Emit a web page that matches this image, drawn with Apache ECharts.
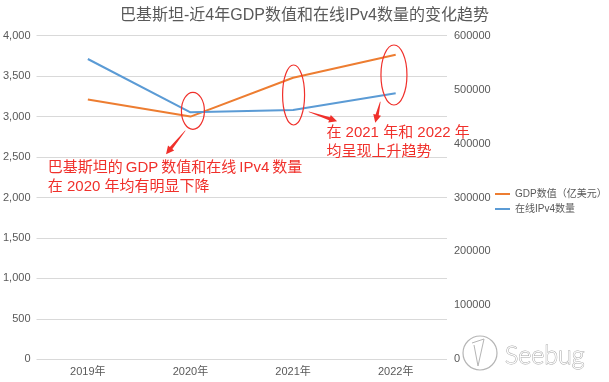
<!DOCTYPE html>
<html>
<head>
<meta charset="utf-8">
<script src="https://cdn.jsdelivr.net/npm/echarts@6/dist/echarts.min.js"></script>
<style>
html,body{margin:0;padding:0;background:#fff;}
#chart{width:609px;height:382px;}
</style>
</head>
<body>
<div id="chart"></div>
<script>
// ---- data ----
const categories = ['2019年', '2020年', '2021年', '2022年'];
const gdpValues = [3210, 3000, 3480, 3765];
const ipv4Values = [556800, 458000, 462200, 493200];
const seriesNames = ['GDP数值（亿美元）', '在线IPv4数量'];
const leftAxisRange = [0, 4000, 500];
const rightAxisRange = [0, 600000, 100000];
const titleText = '巴基斯坦-近4年GDP数值和在线IPv4数量的变化趋势';
const note1Lines = ['巴基斯坦的\u2009GDP\u2009数值和在线\u2009IPv4\u2009数量', '在 2020 年均有明显下降'];
const note2Lines = ['在 2021 年和 2022 年', '均呈现上升趋势'];

const FONT = '"Liberation Sans", "Noto Sans CJK SC", sans-serif';
const chart = echarts.init(document.getElementById('chart'), null, {renderer: 'canvas'});

chart.setOption({
  animation: false,
  backgroundColor: '#fff',
  textStyle: {fontFamily: FONT},
  title: {
    text: titleText,
    left: 'center',
    top: 3,
    textStyle: {fontSize: 16, fontWeight: 'normal', color: '#595959', fontFamily: FONT}
  },
  legend: {
    orient: 'vertical',
    left: 495,
    top: 189,
    width: 114,
    padding: 0,
    itemWidth: 15,
    itemHeight: 2,
    itemGap: 5,
    icon: 'rect',
    textStyle: {fontSize: 10, color: '#595959', fontFamily: FONT, width: 100, overflow: 'none'},
    data: seriesNames
  },
  grid: {left: 35, right: 162, top: 35.7, bottom: 22.7, containLabel: false},
  xAxis: {
    type: 'category',
    data: categories,
    boundaryGap: true,
    axisLine: {show: false},
    axisTick: {show: false},
    axisLabel: {fontSize: 11, color: '#595959', margin: 7, fontFamily: FONT}
  },
  yAxis: [
    {
      type: 'value',
      min: leftAxisRange[0], max: leftAxisRange[1], interval: leftAxisRange[2],
      axisLine: {show: false}, axisTick: {show: false},
      axisLabel: {
        fontSize: 11, color: '#595959', margin: 6, fontFamily: FONT,
        formatter: v => v.toLocaleString('en-US')
      },
      splitLine: {lineStyle: {color: '#d9d9d9', width: 1}}
    },
    {
      type: 'value',
      min: rightAxisRange[0], max: rightAxisRange[1], interval: rightAxisRange[2],
      axisLine: {show: false}, axisTick: {show: false},
      axisLabel: {fontSize: 11, color: '#595959', margin: 7, fontFamily: FONT,
        formatter: v => String(v)},
      splitLine: {show: false}
    }
  ],
  series: [
    {
      name: seriesNames[0], type: 'line', yAxisIndex: 0, data: gdpValues,
      symbol: 'none', lineStyle: {color: '#ED7D31', width: 2}, itemStyle: {color: '#ED7D31'}
    },
    {
      name: seriesNames[1], type: 'line', yAxisIndex: 1, data: ipv4Values,
      symbol: 'none', lineStyle: {color: '#5B9BD5', width: 2}, itemStyle: {color: '#5B9BD5'}
    }
  ]
});

// ---- annotations, placed in axis space (category position, left-axis value) ----
const x0 = chart.convertToPixel({xAxisIndex: 0}, 0);
const band = chart.convertToPixel({xAxisIndex: 0}, 1) - x0;
const px = (c, v) => [x0 + c * band, chart.convertToPixel({yAxisIndex: 0}, v)];

const RED = '#F0302B';
const ellipses = [
  {at: [1.024, 3072], rx: 11.5, ry: 18.5},
  {at: [2.005, 3267], rx: 11, ry: 30},
  {at: [2.983, 3514], rx: 13, ry: 30}
];
const arrows = [
  {from: [0.950, 2826], to: [0.762, 2536]},
  {from: [2.153, 3060], to: [2.429, 2943]},
  {from: [2.850, 3184], to: [2.801, 2925]}
];
const notes = [
  {at: [-0.39, 2361], lines: note1Lines},
  {at: [2.325, 2793], lines: note2Lines}
];

const graphics = [];
ellipses.forEach(e => {
  const c = px(e.at[0], e.at[1]);
  graphics.push({
    type: 'ellipse', z: 100,
    shape: {cx: c[0], cy: c[1], rx: e.rx, ry: e.ry},
    style: {fill: 'none', stroke: RED, lineWidth: 1.2}
  });
});
arrows.forEach(a => {
  const p = px(a.from[0], a.from[1]);
  const q = px(a.to[0], a.to[1]);
  const dx = q[0] - p[0], dy = q[1] - p[1];
  const len = Math.hypot(dx, dy);
  const ux = dx / len, uy = dy / len, nx = -uy, ny = ux;
  const headL = 8, headW = 4, shaftW = 1.6;
  const b = [q[0] - ux * headL, q[1] - uy * headL];
  graphics.push({
    type: 'polygon', z: 100,
    shape: {points: [
      [p[0] + nx * 0.3, p[1] + ny * 0.3],
      [b[0] + nx * shaftW, b[1] + ny * shaftW],
      [b[0] + nx * headW, b[1] + ny * headW],
      q,
      [b[0] - nx * headW, b[1] - ny * headW],
      [b[0] - nx * shaftW, b[1] - ny * shaftW],
      [p[0] - nx * 0.3, p[1] - ny * 0.3]
    ]},
    style: {fill: RED, stroke: 'none'}
  });
});
notes.forEach(n => {
  const c = px(n.at[0], n.at[1]);
  n.lines.forEach((t, i) => {
    graphics.push({
      type: 'text', z: 100, x: c[0], y: c[1] + i * 19,
      style: {text: t, fill: RED, fontSize: 15, fontFamily: FONT, verticalAlign: 'middle', align: 'left'}
    });
  });
});

// watermark
graphics.push({
  type: 'circle', z: 90,
  shape: {cx: 480, cy: 353, r: 17},
  style: {fill: 'rgba(255,255,255,0.6)', stroke: '#b5b5b5', lineWidth: 1.2}
});
graphics.push({
  type: 'polyline', z: 91,
  shape: {points: [[472, 343], [484, 339], [478, 366], [474, 345]]},
  style: {fill: 'none', stroke: '#b5b5b5', lineWidth: 1}
});
graphics.push({
  type: 'text', z: 90, x: 505, y: 356,
  style: {text: 'Seebug', fontSize: 25, fontFamily: 'Lato, sans-serif', fontWeight: 300,
          fill: '#ffffff', stroke: '#a8a8a8', lineWidth: 1, verticalAlign: 'middle'}
});

chart.setOption({graphic: graphics});
</script>
</body>
</html>
